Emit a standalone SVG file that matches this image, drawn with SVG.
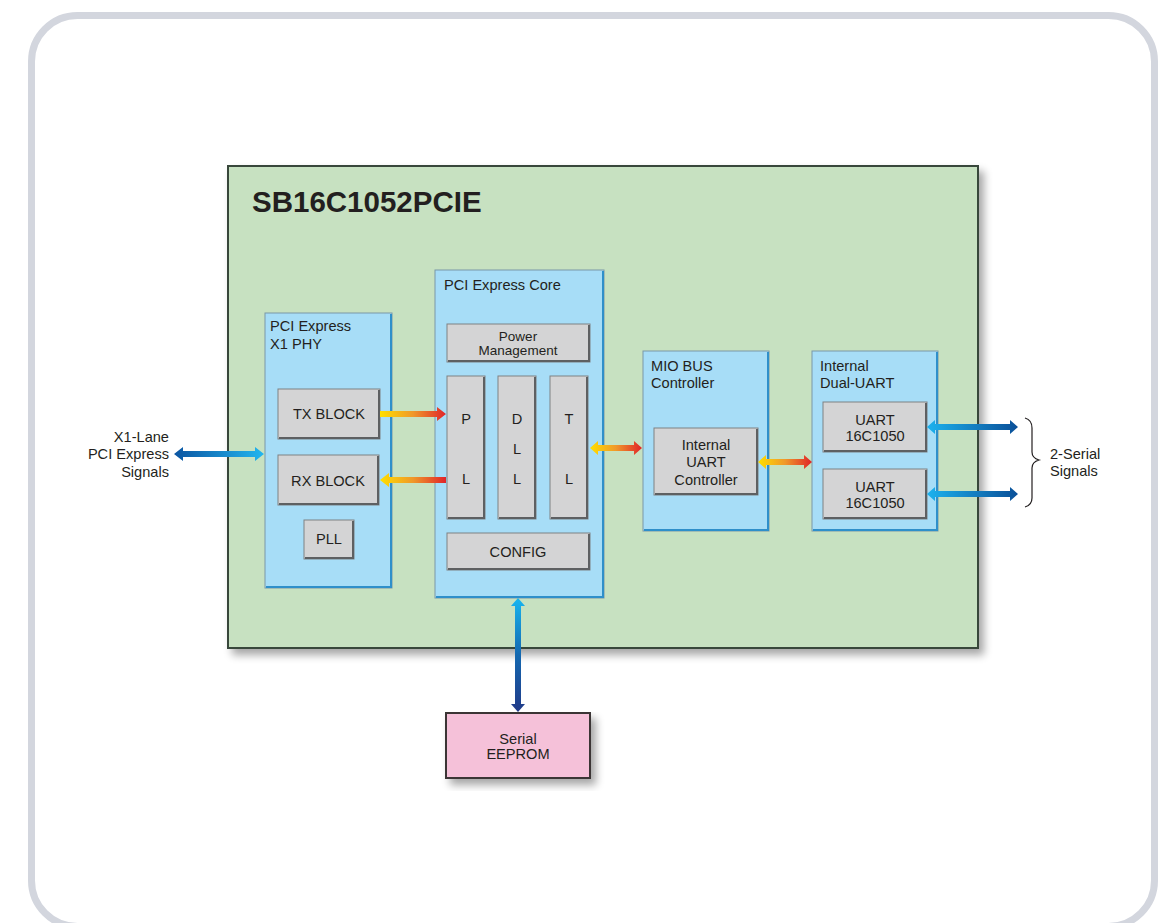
<svg xmlns="http://www.w3.org/2000/svg" width="1164" height="923" viewBox="0 0 1164 923">
<defs>
<style>
text{font-family:"Liberation Sans",Arial,sans-serif;fill:#231f20;font-size:14.6px}
.c{text-anchor:middle}
.r{text-anchor:end}
.gray{fill:#d4d4d5;stroke:#7f8183;stroke-width:1}
.blue{fill:#a7ddf7;stroke:#7a98a8;stroke-width:1}
.edgeB{fill:none;stroke:#2f8fca;stroke-width:2}
.edgeG{fill:none;stroke:#5e6062;stroke-width:2}
</style>
<linearGradient id="gBlueR" x1="0" y1="0" x2="1" y2="0"><stop offset="0" stop-color="#1cb2ee"/><stop offset="1" stop-color="#0a4f98"/></linearGradient>
<linearGradient id="gBlueL" x1="0" y1="0" x2="1" y2="0"><stop offset="0" stop-color="#0b55a2"/><stop offset="1" stop-color="#22b6ef"/></linearGradient>
<linearGradient id="gWarm" x1="0" y1="0" x2="1" y2="0"><stop offset="0" stop-color="#ffdf00"/><stop offset="0.5" stop-color="#f0982a"/><stop offset="1" stop-color="#e0242a"/></linearGradient>
<linearGradient id="gVert" x1="0" y1="0" x2="0" y2="1"><stop offset="0" stop-color="#18b6f0"/><stop offset="0.5" stop-color="#1468b0"/><stop offset="1" stop-color="#213a88"/></linearGradient>
<filter id="sh" x="-10%" y="-10%" width="130%" height="130%"><feGaussianBlur in="SourceAlpha" stdDeviation="4"/><feOffset dx="5" dy="6" result="b"/><feComponentTransfer><feFuncA type="linear" slope="0.35"/></feComponentTransfer><feMerge><feMergeNode/><feMergeNode in="SourceGraphic"/></feMerge></filter>
</defs>
<rect x="0" y="0" width="1164" height="923" fill="#ffffff"/>
<rect id="frame" x="31.5" y="15.5" width="1123" height="911" rx="46" fill="#ffffff" stroke="#d3d6de" stroke-width="7"/>

<g id="chip">
<rect x="228" y="166" width="750" height="482" fill="#c7e1c1" stroke="#37473a" stroke-width="2" filter="url(#sh)"/>
<text x="252" y="212" style="font-size:29.5px;font-weight:bold">SB16C1052PCIE</text>
</g>

<g id="phy">
<rect class="blue" x="265" y="313" width="127" height="275"/>
<polyline class="edgeB" points="266,587 391,587 391,314"/>
<text x="270" y="331">PCI Express</text>
<text x="270" y="349">X1 PHY</text>
</g>
<g id="tx">
<rect class="gray" x="278" y="389" width="102" height="50"/>
<polyline class="edgeG" points="279,438 379,438 379,390"/>
<text class="c" x="329" y="419">TX BLOCK</text>
</g>
<g id="rx">
<rect class="gray" x="278" y="455" width="101" height="50"/>
<polyline class="edgeG" points="279,504 378,504 378,456"/>
<text class="c" x="328" y="486">RX BLOCK</text>
</g>
<g id="pll">
<rect class="gray" x="304" y="520" width="50" height="39"/>
<polyline class="edgeG" points="305,558 353,558 353,521"/>
<text class="c" x="329" y="544">PLL</text>
</g>

<g id="core">
<rect class="blue" x="435" y="270" width="169" height="328"/>
<polyline class="edgeB" points="436,597 603,597 603,271"/>
<text x="444" y="290">PCI Express Core</text>
</g>
<g id="pm">
<rect class="gray" x="447" y="324" width="143" height="38"/>
<polyline class="edgeG" points="448,361 589,361 589,325"/>
<text class="c" x="518" y="341" style="font-size:13.5px">Power</text>
<text class="c" x="518" y="355" style="font-size:13.5px">Management</text>
</g>
<g id="pl">
<rect class="gray" x="447" y="376" width="38" height="143"/>
<polyline class="edgeG" points="448,518 484,518 484,377"/>
<text class="c" x="466" y="424">P</text>
<text class="c" x="466" y="484">L</text>
</g>
<g id="dll">
<rect class="gray" x="498" y="376" width="38" height="143"/>
<polyline class="edgeG" points="499,518 535,518 535,377"/>
<text class="c" x="517" y="424">D</text>
<text class="c" x="517" y="454">L</text>
<text class="c" x="517" y="484">L</text>
</g>
<g id="tl">
<rect class="gray" x="550" y="376" width="38" height="143"/>
<polyline class="edgeG" points="551,518 587,518 587,377"/>
<text class="c" x="569" y="424">T</text>
<text class="c" x="569" y="484">L</text>
</g>
<g id="config">
<rect class="gray" x="447" y="533" width="143" height="37"/>
<polyline class="edgeG" points="448,569 589,569 589,534"/>
<text class="c" x="518" y="557">CONFIG</text>
</g>

<g id="mio">
<rect class="blue" x="643" y="351" width="126" height="180"/>
<polyline class="edgeB" points="644,530 768,530 768,352"/>
<text x="651" y="371">MIO BUS</text>
<text x="651" y="388">Controller</text>
</g>
<g id="uartctl">
<rect class="gray" x="654" y="428" width="104" height="67"/>
<polyline class="edgeG" points="655,494 757,494 757,429"/>
<text class="c" x="706" y="450">Internal</text>
<text class="c" x="706" y="467">UART</text>
<text class="c" x="706" y="485">Controller</text>
</g>

<g id="dual">
<rect class="blue" x="812" y="351" width="126" height="180"/>
<polyline class="edgeB" points="813,530 937,530 937,352"/>
<text x="820" y="371">Internal</text>
<text x="820" y="388">Dual-UART</text>
</g>
<g id="uart1">
<rect class="gray" x="823" y="402" width="104" height="50"/>
<polyline class="edgeG" points="824,451 926,451 926,403"/>
<text class="c" x="875" y="425">UART</text>
<text class="c" x="875" y="441">16C1050</text>
</g>
<g id="uart2">
<rect class="gray" x="823" y="469" width="104" height="50"/>
<polyline class="edgeG" points="824,518 926,518 926,470"/>
<text class="c" x="875" y="492">UART</text>
<text class="c" x="875" y="508">16C1050</text>
</g>

<g id="eeprom">
<rect x="446" y="713" width="144" height="65" fill="#f5c1d9" stroke="#3a3436" stroke-width="2" filter="url(#sh)"/>
<text class="c" x="518" y="744">Serial</text>
<text class="c" x="518" y="759">EEPROM</text>
</g>

<g id="labels">
<text class="r" x="169" y="442">X1-Lane</text>
<text class="r" x="169" y="459">PCI Express</text>
<text class="r" x="169" y="477">Signals</text>
<text x="1050" y="459">2-Serial</text>
<text x="1050" y="476">Signals</text>
<path d="M1025,418 Q1032,420 1032,428 L1032,452 Q1032,458 1039,460 Q1032,462 1032,468 L1032,498 Q1032,505 1025,507" fill="none" stroke="#231f20" stroke-width="1.2"/>
</g>

<g id="connectors">
<polygon fill="url(#gBlueL)" points="174,454 183,447 183,451 255,451 255,447 264,454 255,461 255,457 183,457 183,461"/>
<polygon fill="url(#gWarm)" points="380,411 437,411 437,407 446,414 437,421 437,417 380,417"/>
<polygon fill="url(#gWarm)" points="446,477 389,477 389,473 380,480 389,487 389,483 446,483"/>
<polygon fill="url(#gWarm)" points="590,448 598,441 598,445 634,445 634,441 642,448 634,455 634,451 598,451 598,455"/>
<polygon fill="url(#gWarm)" points="758,462 766,455 766,459 804,459 804,455 812,462 804,469 804,465 766,465 766,469"/>
<polygon fill="url(#gBlueR)" points="927,427 935,420 935,424 1010,424 1010,420 1018,427 1010,434 1010,430 935,430 935,434"/>
<polygon fill="url(#gBlueR)" points="927,494 935,487 935,491 1010,491 1010,487 1018,494 1010,501 1010,497 935,497 935,501"/>
<polygon fill="url(#gVert)" points="518,598 525,606 521,606 521,704 525,704 518,712 511,704 515,704 515,606 511,606"/>
</g>
</svg>
